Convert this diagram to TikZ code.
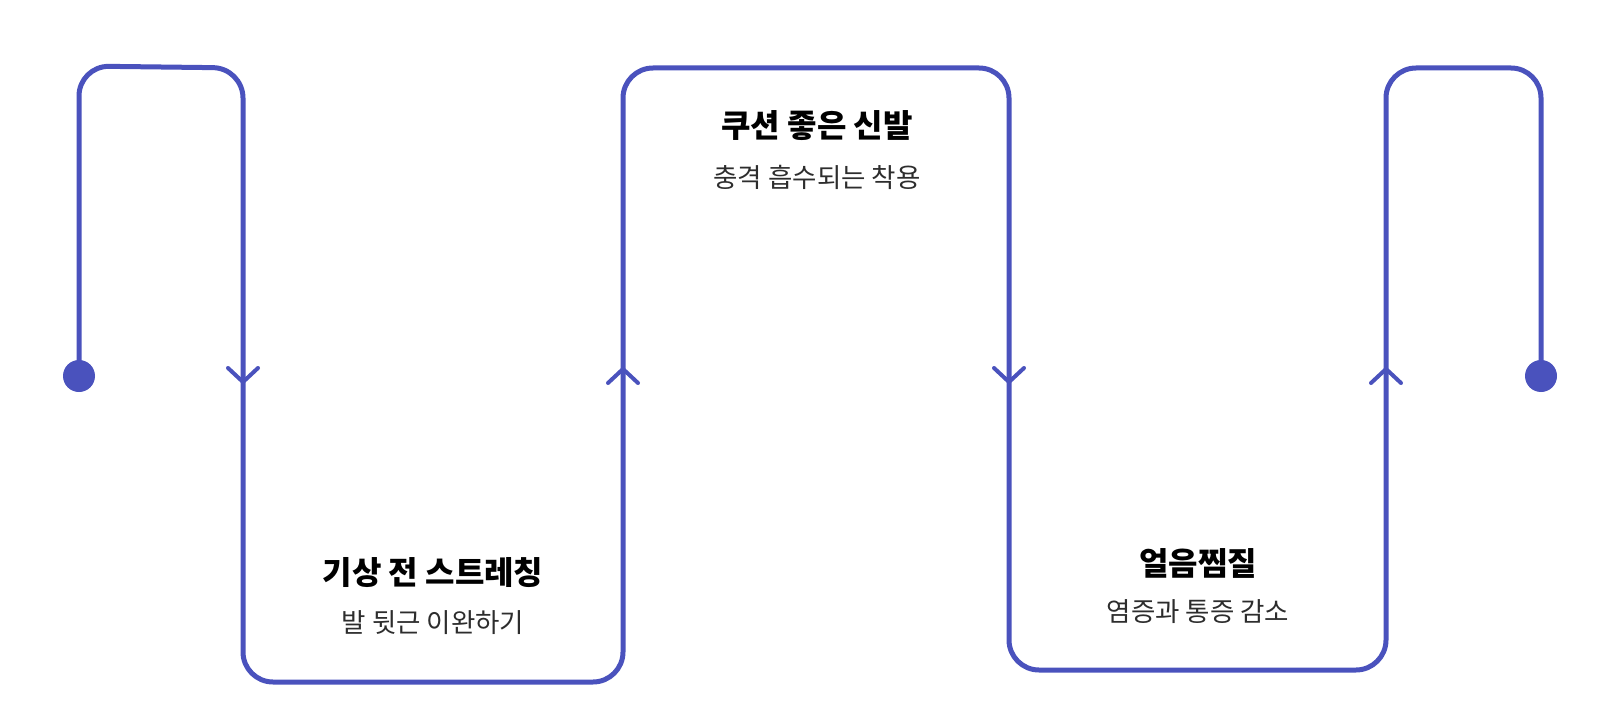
\documentclass[tikz,border=0pt]{standalone}
\usepackage{fontspec}
\setmainfont{Noto Sans CJK KR}
\definecolor{flow}{RGB}{74,82,189}
\definecolor{subtxt}{RGB}{45,45,45}
\begin{document}
\begin{tikzpicture}[x=1pt,y=-1pt,
  flowline/.style={draw=flow,line width=5pt,rounded corners=30pt},
  chev/.style={draw=flow,line width=4pt,line cap=round,line join=round},
  enddot/.style={circle,fill=flow,inner sep=0pt,minimum size=32pt},
  ttl/.style={font=\fontsize{32}{38}\selectfont\bfseries,text=black,anchor=center},
  subt/.style={font=\fontsize{26.5}{31}\selectfont,text=subtxt,anchor=center}]
\useasboundingbox (0,0) rectangle (1608,722);
\node[enddot] (s) at (79,376) {};
\node[enddot] (e) at (1541,376) {};
\coordinate (p1) at (79,66);
\coordinate (p2) at (243,68);
\coordinate (p3) at (243,682);
\coordinate (p4) at (623,682);
\coordinate (p5) at (623,68);
\coordinate (p6) at (1009,68);
\coordinate (p7) at (1009,670);
\coordinate (p8) at (1386,670);
\coordinate (p9) at (1386,68);
\coordinate (p10) at (1541,68);
\draw[flowline] (s.center) -- (p1) -- (p2) -- (p3) -- (p4) -- (p5) -- (p6) -- (p7) -- (p8) -- (p9) -- (p10) -- (e.center);
% chevrons
\draw[chev] (228,368) -- (243,382) -- (258,368);
\draw[chev] (608,383) -- (623,369) -- (638,383);
\draw[chev] (994,368) -- (1009,382) -- (1024,368);
\draw[chev] (1371,383) -- (1386,369) -- (1401,383);
% texts
\node[ttl] (t1) at (433,573) {기상 전 스트레칭};
\node[subt] (s1) at (433,623) {발 뒷근 이완하기};
\node[ttl] (t2) at (817,126) {쿠션 좋은 신발};
\node[subt] (s2) at (817,177) {충격 흡수되는 착용};
\node[ttl] (t3) at (1198,563) {얼음찜질};
\node[subt] (s3) at (1198,612) {염증과 통증 감소};
\end{tikzpicture}
\end{document}
